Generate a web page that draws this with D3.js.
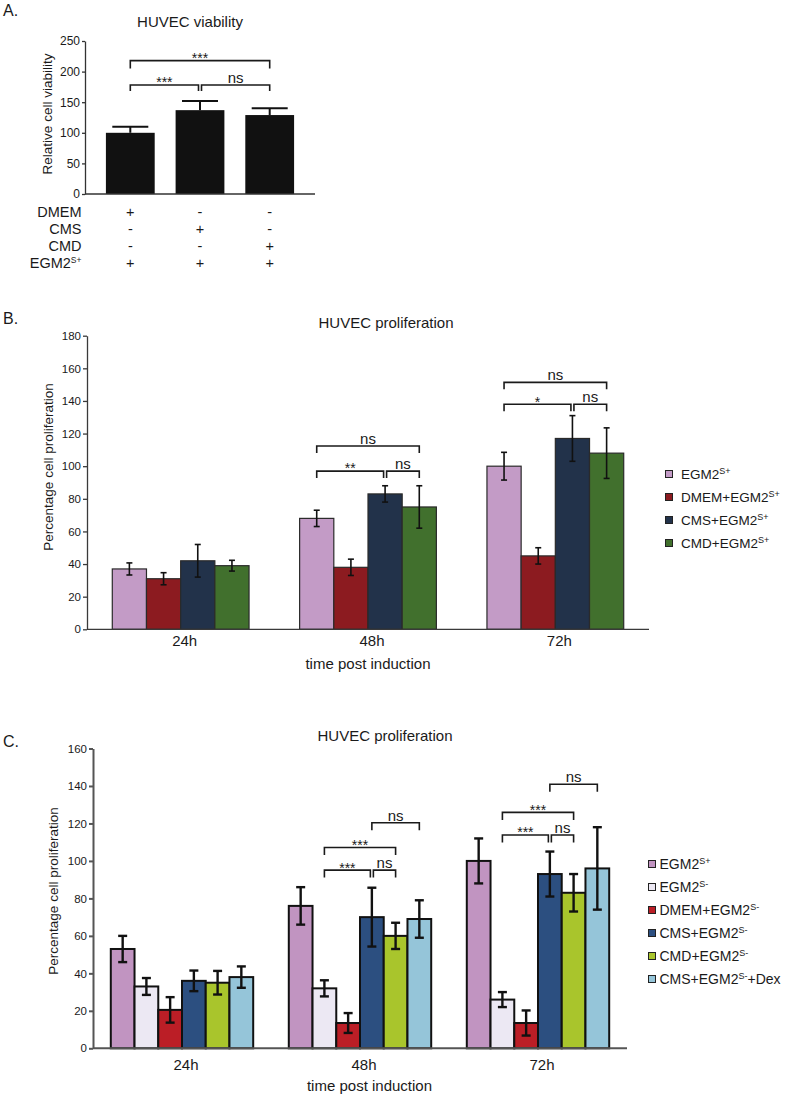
<!DOCTYPE html>
<html><head><meta charset="utf-8">
<script src="https://cdn.jsdelivr.net/npm/d3@7"></script>
<style>
body{margin:0;background:#fff}
svg{display:block}
text{font-family:"Liberation Sans",Arial,Helvetica,sans-serif;fill:#1a1a1a}
</style>
</head><body>
<svg id="chart" width="792" height="1100"></svg>
<script>
// ---------------- Panel A data ----------------
const aGroups = ["DMEM", "CMS", "CMD"];
const aMeans = [100, 137, 129];
const aErrors = [10, 15, 11];
const aYTicks = [0, 50, 100, 150, 200, 250];
const aRowLabels = ["DMEM", "CMS", "CMD", "EGM2{S+}"];
const aRowSigns = [["+", "-", "-"], ["-", "+", "-"], ["-", "-", "+"], ["+", "+", "+"]];
const aBrackets = [
  {from: 0, to: 2, y: 218, label: "***"},
  {from: 0, to: 1, y: 178, label: "***"},
  {from: 1, to: 2, y: 178, label: "ns"}
];

// ---------------- Panel B data ----------------
const bTimes = ["24h", "48h", "72h"];
const bSeries = ["EGM2{S+}", "DMEM+EGM2{S+}", "CMS+EGM2{S+}", "CMD+EGM2{S+}"];
const bColors = ["#c39bc6", "#8c1b20", "#22324a", "#41702d"];
const bMeans = [[37, 31, 42, 39], [68, 38, 83, 75], [100, 45, 117, 108]];
const bErrors = [[3.7, 3.7, 10, 3.3], [5, 5, 5, 13], [8.5, 5, 14, 15.5]];
const bYTicks = [0, 20, 40, 60, 80, 100, 120, 140, 160, 180];
const bBrackets = [
  {time: "48h", from: 0, to: 3, y: 112.4, label: "ns"},
  {time: "48h", from: 0, to: 2, y: 97, label: "**"},
  {time: "48h", from: 2, to: 3, y: 97, label: "ns"},
  {time: "72h", from: 0, to: 3, y: 151.4, label: "ns"},
  {time: "72h", from: 0, to: 2, y: 138, label: "*"},
  {time: "72h", from: 2, to: 3, y: 138, label: "ns"}
];

// ---------------- Panel C data ----------------
const cTimes = ["24h", "48h", "72h"];
const cSeries = ["EGM2{S+}", "EGM2{S-}", "DMEM+EGM2{S-}", "CMS+EGM2{S-}", "CMD+EGM2{S-}", "CMS+EGM2{S-}+Dex"];
const cColors = ["#c194c1", "#ece8f3", "#bb1e26", "#2c4f80", "#a9c52c", "#95c5d9"];
const cMeans = [[53, 33, 20.5, 36, 35, 38], [76, 32, 13.5, 70, 60, 69], [100, 26, 13.5, 93, 83, 96]];
const cErrors = [[7, 4.5, 6.8, 5.5, 6.3, 5.7], [10, 4.3, 5.3, 15.7, 7, 10], [12, 4, 6.7, 12, 10, 22]];
const cYTicks = [0, 20, 40, 60, 80, 100, 120, 140, 160];
const cBrackets = [
  {time: "48h", from: 3, to: 5, y: 120.4, label: "ns"},
  {time: "48h", from: 1, to: 4, y: 107.2, label: "***"},
  {time: "48h", from: 1, to: 3, y: 95.1, label: "***"},
  {time: "48h", from: 3, to: 4, y: 95.1, label: "ns"},
  {time: "72h", from: 3, to: 5, y: 140.9, label: "ns"},
  {time: "72h", from: 1, to: 4, y: 125.9, label: "***"},
  {time: "72h", from: 1, to: 3, y: 113.8, label: "***"},
  {time: "72h", from: 3, to: 4, y: 113.8, label: "ns"}
];

const svg = d3.select("#chart");
const FONT = '"Liberation Sans",Arial,Helvetica,sans-serif';

// text with {superscript} markup
function rich(sel, str, supSize, supDy) {
  const re = /\{([^}]*)\}|([^{]+)/g;
  let m, raised = false;
  while ((m = re.exec(str)) !== null) {
    if (m[1] !== undefined) {
      sel.append("tspan").attr("font-size", supSize).attr("dy", -supDy).text(m[1]);
      raised = true;
    } else {
      const t = sel.append("tspan").text(m[2]);
      if (raised) { t.attr("dy", supDy); raised = false; }
    }
  }
}

function styleAxis(g, color, width, fs) {
  g.select(".domain").attr("stroke", color).attr("stroke-width", width);
  g.selectAll(".tick line").attr("stroke", color).attr("stroke-width", width);
  g.selectAll(".tick text").attr("font-size", fs).attr("font-family", FONT).attr("fill", "#1a1a1a");
}

function drawBrackets(g, list, xOf, y, drop) {
  list.forEach(b => {
    let x1 = xOf(b, b.from), x2 = xOf(b, b.to);
    if (list.some(o => o !== b && o.y === b.y && o.time === b.time && o.from === b.to)) x2 -= 1.5;
    if (list.some(o => o !== b && o.y === b.y && o.time === b.time && o.to === b.from)) x1 += 1.5;
    const yy = y(b.y);
    g.append("path")
      .attr("d", `M${x1},${yy + drop}V${yy}H${x2}V${yy + drop}`)
      .attr("fill", "none").attr("stroke", "#1a1a1a").attr("stroke-width", 1.6);
    const isStar = b.label.indexOf("*") >= 0;
    g.append("text").attr("x", (x1 + x2) / 2).attr("y", isStar ? yy + 2.4 : yy - 2)
      .attr("text-anchor", "middle").attr("font-size", isStar ? 14 : 15).text(b.label);
  });
}

// ================= Panel A =================
(function () {
  const g = svg.append("g");
  g.append("text").attr("x", 3).attr("y", 16).attr("font-size", 16).text("A.");
  g.append("text").attr("x", 190).attr("y", 27).attr("text-anchor", "middle").attr("font-size", 15).text("HUVEC viability");

  const x = d3.scaleBand().domain(aGroups).range([85, 315]).padding(0.3);
  const y = d3.scaleLinear().domain([0, 250]).range([194, 41]);

  g.selectAll("rect.bar").data(aGroups).join("rect").attr("class", "bar")
    .attr("x", d => x(d)).attr("width", x.bandwidth())
    .attr("y", (d, i) => y(aMeans[i])).attr("height", (d, i) => y(0) - y(aMeans[i]))
    .attr("fill", "#111");
  aGroups.forEach((d, i) => {
    const cx = x(d) + x.bandwidth() / 2, top = y(aMeans[i] + aErrors[i]);
    g.append("line").attr("x1", cx).attr("x2", cx).attr("y1", top).attr("y2", y(aMeans[i]))
      .attr("stroke", "#111").attr("stroke-width", 2);
    g.append("line").attr("x1", cx - 18).attr("x2", cx + 18).attr("y1", top).attr("y2", top)
      .attr("stroke", "#111").attr("stroke-width", 2);
  });

  const ax = g.append("g").attr("transform", "translate(85,0)")
    .call(d3.axisLeft(y).tickValues(aYTicks).tickSize(3).tickPadding(2).tickSizeOuter(0));
  styleAxis(ax, "#333", 1.3, 12);
  g.append("line").attr("x1", 85).attr("x2", 315).attr("y1", y(0)).attr("y2", y(0))
    .attr("stroke", "#333").attr("stroke-width", 1.3);

  g.append("text").attr("transform", `translate(51.5,114) rotate(-90)`).attr("text-anchor", "middle")
    .attr("font-size", 13.5).text("Relative cell viability");

  const xc = (b, i) => x(aGroups[i]) + x.bandwidth() / 2;
  aBrackets.forEach(b => b.time = "A");
  drawBrackets(g, aBrackets.filter(b => b.y > 200), xc, y, 8);
  drawBrackets(g, aBrackets.filter(b => b.y <= 200), xc, y, 6);

  aRowLabels.forEach((lab, r) => {
    const yy = 217 + r * 17;
    const t = g.append("text").attr("x", 81.5).attr("y", yy).attr("text-anchor", "end").attr("font-size", 14.5);
    rich(t, lab, 8.5, 5);
    aRowSigns[r].forEach((s, c) => {
      g.append("text").attr("x", x(aGroups[c]) + x.bandwidth() / 2).attr("y", yy)
        .attr("text-anchor", "middle").attr("font-size", 14.5).text(s);
    });
  });
})();

// ================= Grouped panels B & C =================
function grouped(o) {
  const g = svg.append("g");
  g.append("text").attr("x", 3).attr("y", o.letterY).attr("font-size", 16).text(o.letter);
  g.append("text").attr("x", o.titleX).attr("y", o.titleY).attr("text-anchor", "middle")
    .attr("font-size", 15).text("HUVEC proliferation");

  const x0 = d3.scaleBand().domain(o.times).range(o.xRange).paddingInner(o.pad).paddingOuter(o.pad / 2);
  const x1 = d3.scaleBand().domain(d3.range(o.series.length)).range([0, x0.bandwidth()]);
  const y = d3.scaleLinear().domain([0, o.yMax]).range(o.yRange);

  o.times.forEach((t, ti) => {
    const gg = g.append("g").attr("transform", `translate(${x0(t)},0)`);
    gg.selectAll("rect").data(o.means[ti]).join("rect")
      .attr("x", (d, si) => x1(si)).attr("width", x1.bandwidth())
      .attr("y", d => y(d)).attr("height", d => y(0) - y(d))
      .attr("fill", (d, si) => o.colors[si])
      .attr("stroke", o.barStroke).attr("stroke-width", o.barStrokeW);
    o.means[ti].forEach((m, si) => {
      const cx = x1(si) + x1.bandwidth() / 2;
      const e = o.errors[ti][si];
      const yt = y(m + e), yb = y(m - e);
      gg.append("line").attr("x1", cx).attr("x2", cx).attr("y1", yt).attr("y2", yb)
        .attr("stroke", "#111").attr("stroke-width", o.errW);
      [yt, yb].forEach(yy => gg.append("line").attr("x1", cx - o.cap).attr("x2", cx + o.cap)
        .attr("y1", yy).attr("y2", yy).attr("stroke", "#111").attr("stroke-width", o.errW));
    });
  });

  const ax = g.append("g").attr("transform", `translate(${o.xRange[0]},0)`)
    .call(d3.axisLeft(y).tickValues(o.ticks).tickSize(4).tickPadding(o.tickPad).tickSizeOuter(0));
  styleAxis(ax, o.axisColor, o.axisW, 11.5);
  g.append("line").attr("x1", o.xRange[0]).attr("x2", o.xRange[1]).attr("y1", y(0)).attr("y2", y(0))
    .attr("stroke", o.axisColor).attr("stroke-width", o.axisW);

  o.times.forEach(t => {
    g.append("text").attr("x", x0(t) + x0.bandwidth() / 2 + 4).attr("y", o.catY)
      .attr("text-anchor", "middle").attr("font-size", 15).text(t);
  });
  g.append("text").attr("x", o.xTitleX).attr("y", o.xTitleY).attr("text-anchor", "middle")
    .attr("font-size", 15).text("time post induction");
  g.append("text").attr("transform", `translate(${o.yTitleX},${o.yTitleY}) rotate(-90)`)
    .attr("text-anchor", "middle").attr("font-size", 13.5).text("Percentage cell proliferation");

  const xc = (b, i) => x0(b.time) + x1(i) + x1.bandwidth() / 2;
  drawBrackets(g, o.brackets, xc, y, o.drop);

  o.series.forEach((s, i) => {
    const cy = o.legY + i * o.legStep;
    g.append("rect").attr("x", o.legX).attr("y", cy - 3.5).attr("width", 7).attr("height", 7)
      .attr("fill", o.colors[i]).attr("stroke", "#222").attr("stroke-width", 1);
    const t = g.append("text").attr("x", o.legTextX).attr("y", cy + 5).attr("font-size", o.legFs);
    rich(t, s, 9, 5.5);
  });
}

grouped({
  letter: "B.", letterY: 323.5, titleX: 386, titleY: 328,
  times: bTimes, series: bSeries, colors: bColors, means: bMeans, errors: bErrors,
  ticks: bYTicks, yMax: 180, yRange: [629.3, 335.7], xRange: [87, 649], pad: 0.27,
  barStroke: "#2a2a2a", barStrokeW: 1.2, errW: 1.6, cap: 3,
  axisColor: "#3a3a3a", axisW: 1.3, tickPad: 2,
  catY: 646, xTitleX: 368, xTitleY: 669, yTitleX: 53, yTitleY: 467,
  brackets: bBrackets, drop: 7,
  legX: 665.5, legTextX: 681, legY: 474, legStep: 23, legFs: 13.5
});

grouped({
  letter: "C.", letterY: 746.5, titleX: 385, titleY: 741,
  times: cTimes, series: cSeries, colors: cColors, means: cMeans, errors: cErrors,
  ticks: cYTicks, yMax: 160, yRange: [1048.3, 748.5], xRange: [93, 627], pad: 0.2,
  barStroke: "#111", barStrokeW: 2, errW: 2.4, cap: 4.5,
  axisColor: "#555", axisW: 2, tickPad: 2,
  catY: 1070, xTitleX: 369.5, xTitleY: 1090.5, yTitleX: 57.5, yTitleY: 891,
  brackets: cBrackets, drop: 7.5,
  legX: 648.5, legTextX: 659.5, legY: 864, legStep: 23, legFs: 14
});
</script>
</body></html>
